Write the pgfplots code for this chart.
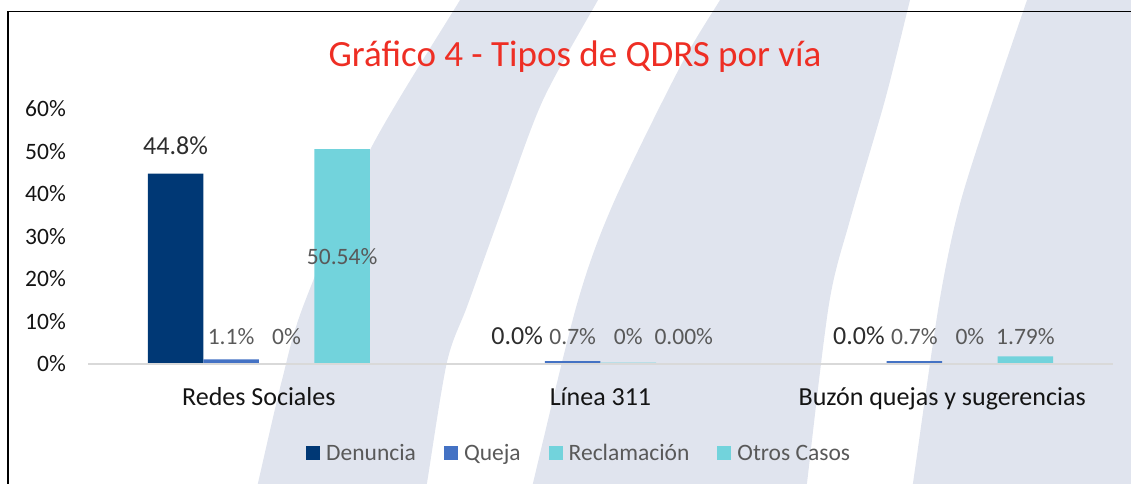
\documentclass[border=0pt]{standalone}
\usepackage{pgfplots}
\usepackage{pgfplotstable}
\pgfplotsset{compat=1.18}
\usepackage{fontspec}
\setmainfont{Carlito}
\definecolor{denc}{RGB}{0,56,117}
\definecolor{quej}{RGB}{68,114,196}
\definecolor{recl}{RGB}{114,211,220}
\definecolor{otro}{RGB}{114,211,220}
\definecolor{band}{RGB}{224,228,238}
\definecolor{titred}{RGB}{238,46,36}
\definecolor{axgray}{RGB}{217,217,217}
\definecolor{lblgray}{RGB}{89,89,89}
\definecolor{lbldark}{RGB}{45,45,45}
\definecolor{catblack}{RGB}{20,20,20}

\pgfplotstableread{
x y lab
0 44.8 44.8
1 0 0.0
2 0 0.0
}\tdenuncia
\pgfplotstableread{
x y lab
0 1.1 1.1
1 0.7 0.7
2 0.7 0.7
}\tqueja
\pgfplotstableread{
x y lab
0 0 0
1 0.3 0
2 0 0
}\treclamacion
\pgfplotstableread{
x y lab
0 50.54 50.54
1 0 0.00
2 1.79 1.79
}\totros

\begin{document}
\begin{tikzpicture}[x=1pt,y=1pt]
\useasboundingbox (0,0) rectangle (1131,483);
\begin{scope}
\clip (0,0) rectangle (1131,483);
\fill[band] plot[smooth] coordinates {(466,493) (460,483) (370,333) (304,179) (282,103) (258,0) (256,-10)}
  -- plot[smooth] coordinates {(425,-10) (427,0) (447,121) (468,179) (504,279) (543,383) (598,483) (604,493)} -- cycle;
\fill[band] plot[smooth] coordinates {(726,493) (720,483) (680,416) (613,279) (577,179) (533,0) (531,-10)}
  -- plot[smooth] coordinates {(806,-10) (807,0) (829,179) (850,263) (885,383) (910,483) (913,493)} -- cycle;
\fill[band] plot[smooth] coordinates {(1030,493) (1027,483) (993,383) (960,279) (939,179) (913,0) (911,-10)}
  -- (1140,-10) -- (1140,493) -- cycle;
\end{scope}
\draw[black, line width=1.2pt] (8,-5) -- (8,471.5) -- (1140,471.5);
\node[anchor=base, text=titred, font=\fontsize{37}{44}\selectfont, inner sep=0pt] at (575,416) {Gráfico 4 - Tipos de QDRS por vía};

\begin{axis}[
  at={(88pt,119pt)}, anchor=south west,
  scale only axis, width=1025pt, height=255pt,
  xmin=-0.5, xmax=2.5, ymin=0, ymax=60,
  axis lines*=left,
  axis on top,
  y axis line style={draw=none},
  x axis line style={draw=axgray, line width=1.3pt},
  major tick length=0pt,
  tick style={draw=none},
  xtick={0,1,2},
  xticklabels={Redes Sociales, Línea 311, Buzón quejas y sugerencias},
  xticklabel style={font=\fontsize{26}{30}\selectfont, text=catblack, anchor=base, yshift=-41pt, inner sep=0pt},
  ytick={0,10,20,30,40,50,60},
  yticklabels={0\%,10\%,20\%,30\%,40\%,50\%,60\%},
  yticklabel style={font=\fontsize{23.5}{28}\selectfont, text=catblack, anchor=east, inner sep=0pt, xshift=-22pt},
  ybar, bar width=0.1625,
  clip=false,
  point meta=explicit symbolic,
  nodes near coords={\pgfplotspointmeta\%},
  legend columns=4,
  legend style={at={(0.2127,-0.349)}, anchor=west, draw=none, fill=none, inner sep=0pt,
    font=\fontsize{23.5}{28}\selectfont, text=lblgray,
    /tikz/every even column/.append style={column sep=28pt},
    /tikz/every odd column/.append style={column sep=6pt},
    nodes={inner sep=0pt}, cells={anchor=base west}},
  legend image code/.code={\fill[#1] (0pt,0pt) rectangle (14pt,14pt);},
]
\addplot[fill=denc, draw=none, bar shift=-0.24375,
  every node near coord/.append style={anchor=base, yshift=19.5pt, font=\fontsize{26}{30}\selectfont, text=lbldark, inner sep=0pt}]
  table[x=x, y=y, meta=lab] {\tdenuncia};
\addlegendentry{Denuncia}
\addplot[fill=quej, draw=none, bar shift=-0.08125,
  visualization depends on={\thisrow{y} \as \myy},
  every node near coord/.append style={anchor=base, yshift={(19.5-4.25*\myy)*1pt}, font=\fontsize{23.5}{28}\selectfont, text=lblgray, inner sep=0pt}]
  table[x=x, y=y, meta=lab] {\tqueja};
\addlegendentry{Queja}
\addplot[fill=recl, draw=none, bar shift=0.08125,
  visualization depends on={\thisrow{y} \as \myy},
  every node near coord/.append style={anchor=base, yshift={(19.5-4.25*\myy)*1pt}, font=\fontsize{23.5}{28}\selectfont, text=lblgray, inner sep=0pt}]
  table[x=x, y=y, meta=lab] {\treclamacion};
\addlegendentry{Reclamación}
\addplot[fill=otro, draw=none, bar shift=0.24375,
  visualization depends on={\thisrow{y} \as \myy},
  every node near coord/.append style={anchor=base, yshift={(ifthenelse(\myy>10,-2.125*\myy-7.6,19.5-4.25*\myy))*1pt}, font=\fontsize{23.5}{28}\selectfont, text=lblgray, inner sep=0pt}]
  table[x=x, y=y, meta=lab] {\totros};
\addlegendentry{Otros Casos}
\end{axis}
\end{tikzpicture}
\end{document}
